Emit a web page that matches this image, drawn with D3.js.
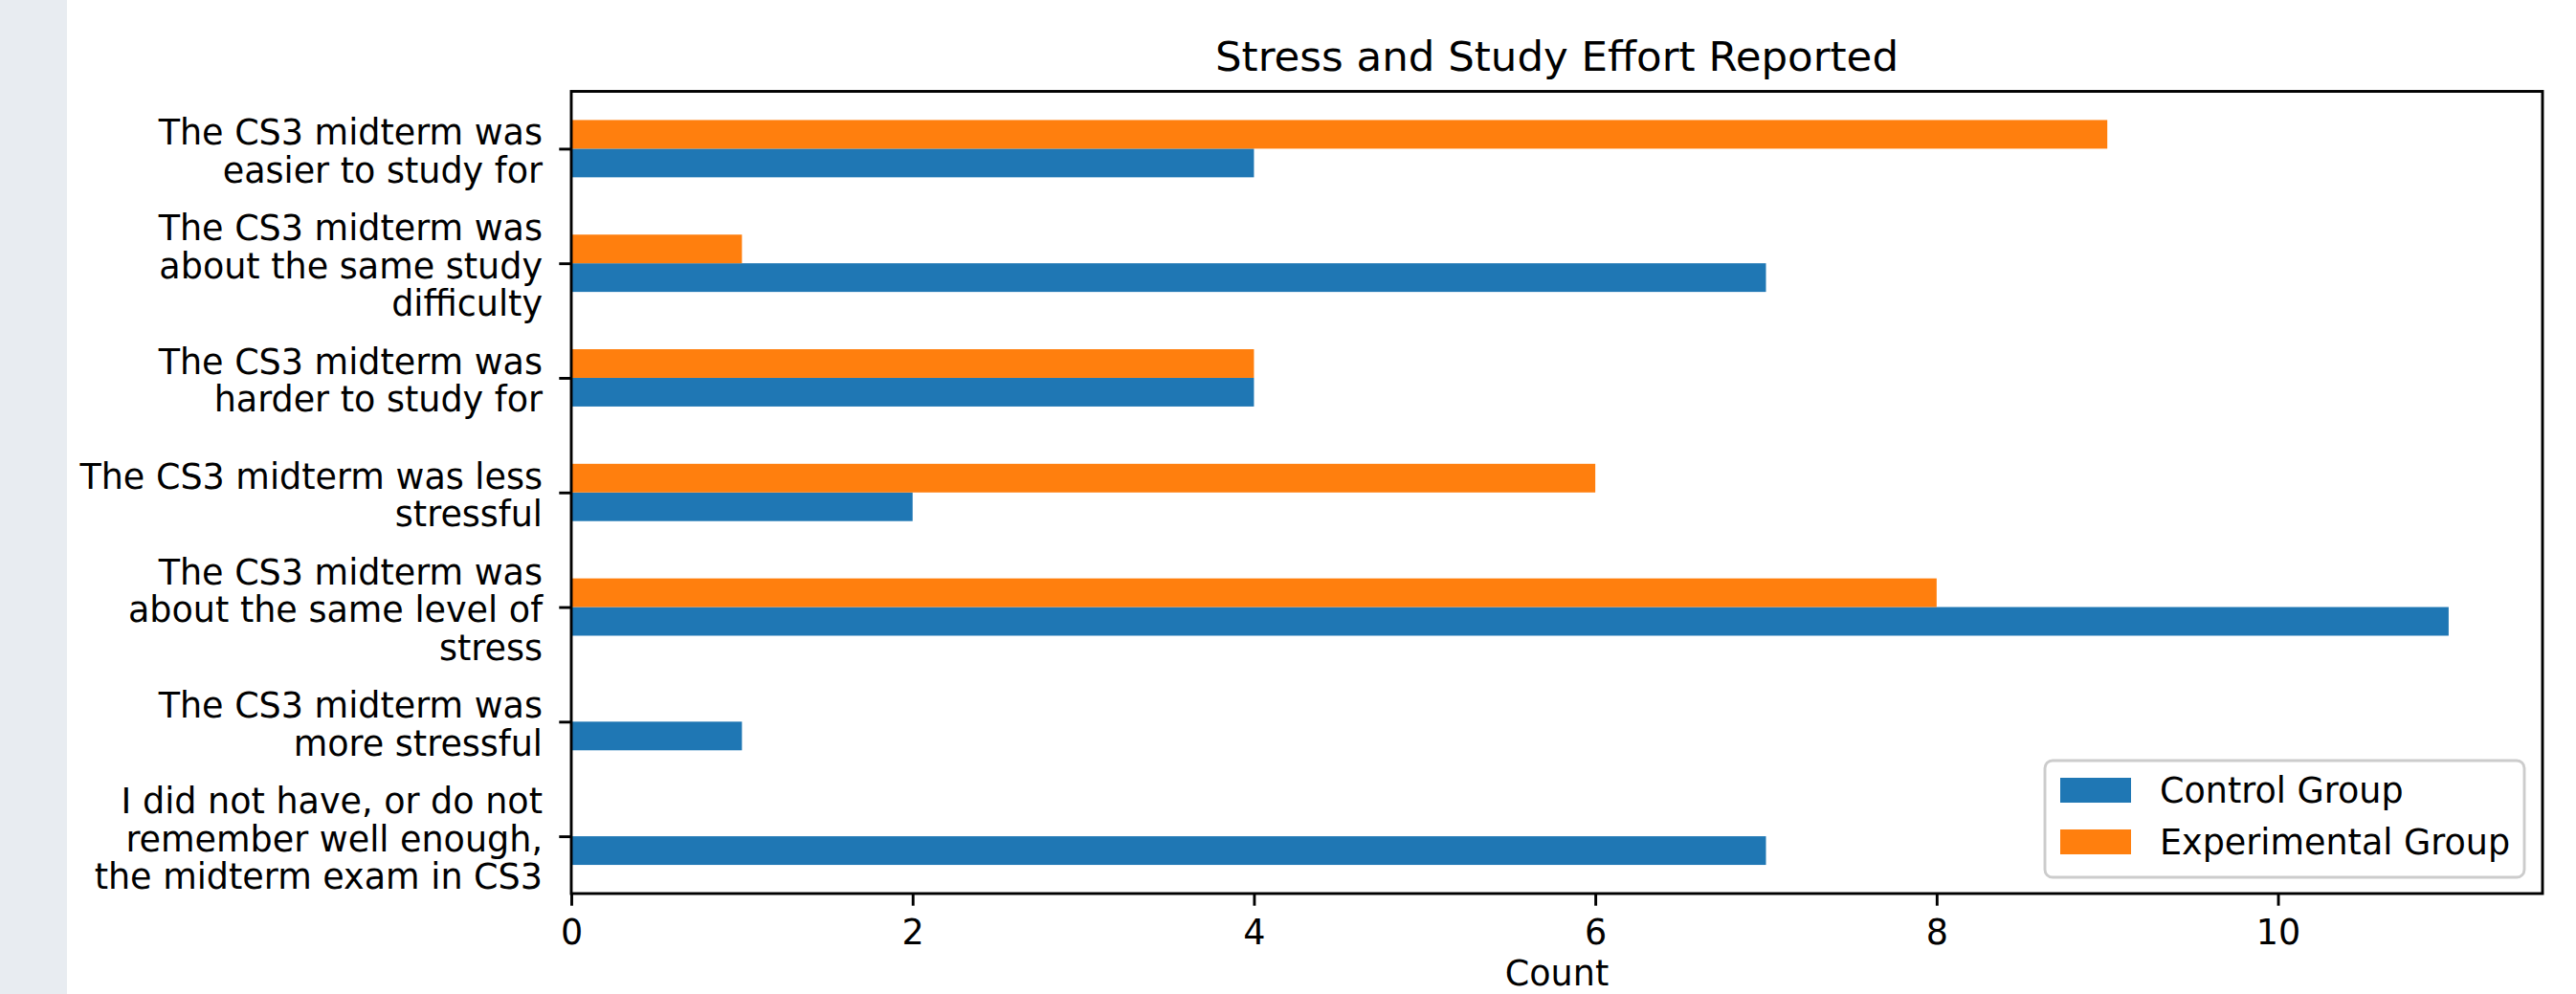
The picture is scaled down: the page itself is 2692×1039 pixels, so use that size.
<!DOCTYPE html>
<html>
<head>
<meta charset="utf-8">
<script src="https://cdn.jsdelivr.net/npm/d3@7"></script>
<style>
  html, body { margin: 0; padding: 0; background: #ffffff; }
  svg { display: block; }
  text { font-family: "DejaVu Sans", sans-serif; fill: #000; }
</style>
</head>
<body>
<script>
const categories = [
  "The CS3 midterm was\neasier to study for",
  "The CS3 midterm was\nabout the same study\ndifficulty",
  "The CS3 midterm was\nharder to study for",
  "The CS3 midterm was less\nstressful",
  "The CS3 midterm was\nabout the same level of\nstress",
  "The CS3 midterm was\nmore stressful",
  "I did not have, or do not\nremember well enough,\nthe midterm exam in CS3"
];
const controlValues = [4, 7, 4, 2, 11, 1, 7];
const experimentalValues = [9, 1, 4, 6, 8, 0, 0];
const seriesNames = ["Control Group", "Experimental Group"];
const seriesColors = ["#1f77b4", "#ff7f0e"];
const xTicks = [0, 2, 4, 6, 8, 10];
const titleText = "Stress and Study Effort Reported";
const xLabel = "Count";

const W = 2692, H = 1039;
const plot = { left: 597, right: 2657, top: 95.5, bottom: 934 };
const fontSize = 36.5;
const lw = 2.9;

const svg = d3.select("body").append("svg").attr("width", W).attr("height", H);

// left strip
svg.append("rect").attr("x", 0).attr("y", 0).attr("width", 70).attr("height", H).attr("fill", "#e8ecf1");

const maxVal = d3.max([...controlValues, ...experimentalValues]);
const x = d3.scaleLinear().domain([0, maxVal * 1.05]).range([plot.left, plot.right]);
const y = d3.scaleLinear().domain([-0.5, categories.length - 0.5]).range([plot.top, plot.bottom]);
const barH = 0.25;

const g = svg.append("g");

// bars: control below tick, experimental above
const series = [
  { name: seriesNames[0], values: controlValues, color: seriesColors[0], offset: 0 },
  { name: seriesNames[1], values: experimentalValues, color: seriesColors[1], offset: -barH }
];
series.forEach(s => {
  g.selectAll(null).data(s.values).enter().append("rect")
    .attr("x", x(0))
    .attr("y", (d, i) => y(i + s.offset))
    .attr("width", d => x(d) - x(0))
    .attr("height", y(barH) - y(0))
    .attr("fill", s.color);
});

// x axis
const xAxis = d3.axisBottom(x).tickValues(xTicks).tickFormat(d3.format("d")).tickSize(12.7).tickPadding(14);
const xg = svg.append("g").attr("transform", `translate(0,${plot.bottom})`).call(xAxis);
xg.select(".domain").remove();
xg.selectAll(".tick line").attr("stroke", "#000").attr("stroke-width", lw);
xg.selectAll(".tick text").attr("font-size", fontSize).attr("font-family", "DejaVu Sans").attr("fill", "#000");

// y axis
const yAxis = d3.axisLeft(y).tickValues(d3.range(categories.length)).tickFormat("").tickSize(12.7);
const yg = svg.append("g").attr("transform", `translate(${plot.left},0)`).call(yAxis);
yg.select(".domain").remove();
yg.selectAll(".tick line").attr("stroke", "#000").attr("stroke-width", lw);
yg.selectAll(".tick").each(function(d) {
  const lines = categories[d].split("\n");
  const n = lines.length;
  const t = d3.select(this).append("text")
    .attr("text-anchor", "end")
    .attr("font-size", fontSize)
    .attr("font-family", "DejaVu Sans")
    .attr("fill", "#000");
  lines.forEach((ln, k) => {
    t.append("tspan").attr("x", -30).attr("y", 15 + (k - (n - 1) / 2) * 39.5).text(ln);
  });
});

// frame
svg.append("rect")
  .attr("x", plot.left).attr("y", plot.top)
  .attr("width", plot.right - plot.left).attr("height", plot.bottom - plot.top)
  .attr("fill", "none").attr("stroke", "#000").attr("stroke-width", lw);

// title
svg.append("text").attr("x", (plot.left + plot.right) / 2).attr("y", 74)
  .attr("text-anchor", "middle").attr("font-size", 43.5).text(titleText);

// x label
svg.append("text").attr("x", (plot.left + plot.right) / 2).attr("y", 1030)
  .attr("text-anchor", "middle").attr("font-size", fontSize).text(xLabel);

// legend
const leg = svg.append("g");
leg.append("rect").attr("x", 2137).attr("y", 795).attr("width", 501).attr("height", 122)
  .attr("rx", 8).attr("ry", 8)
  .attr("fill", "#ffffff").attr("fill-opacity", 0.8)
  .attr("stroke", "#cccccc").attr("stroke-width", lw);
series.forEach((s, i) => {
  const yy = 813 + i * 54;
  leg.append("rect").attr("x", 2153).attr("y", yy).attr("width", 74).attr("height", 26).attr("fill", s.color);
  leg.append("text").attr("x", 2257).attr("y", yy + 25.5).attr("font-size", fontSize).text(s.name);
});
</script>
</body>
</html>
